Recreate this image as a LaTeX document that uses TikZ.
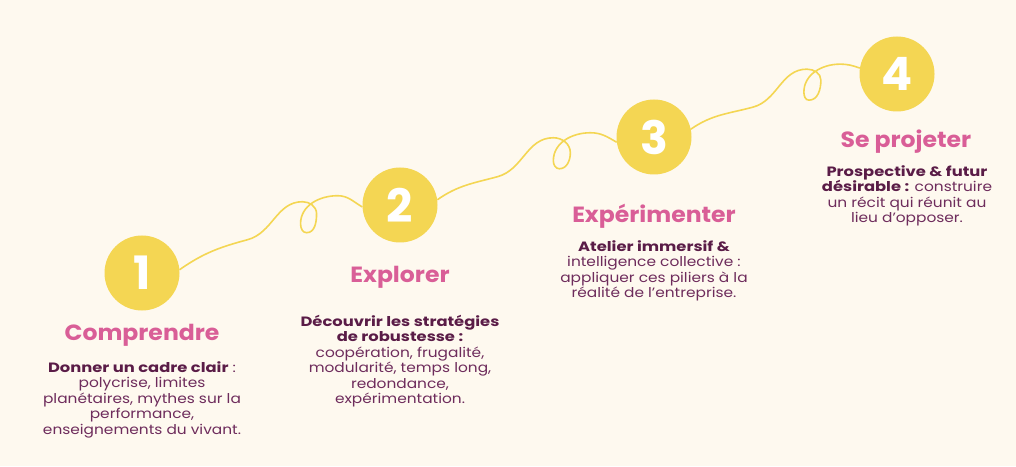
\documentclass[tikz,border=0pt]{standalone}
\usepackage{fontspec}
\setmainfont{Poppins}[FakeStretch=1.14,BoldFeatures={FakeStretch=1.21}]
\newfontfamily\titlefont{Poppins}[FakeStretch=1.07]
\newfontfamily\numfont{Poppins}
\usepackage{xcolor}
\usepackage{tikz}
\definecolor{cream}{HTML}{FEF9EF}
\definecolor{sun}{HTML}{F4D653}
\definecolor{rose}{HTML}{D95E97}
\definecolor{plum}{HTML}{5A1C47}
\definecolor{mauve}{HTML}{6E2C5C}

\begin{document}
\begin{tikzpicture}[x=1pt,y=1pt,
	step circle/.style={circle,fill=sun,minimum size=75pt,inner sep=0pt,
		text=white,font=\numfont\fontsize{46}{46}\selectfont\bfseries},
	title/.style={anchor=base,text=rose,font=\titlefont\fontsize{22}{22}\selectfont\bfseries},
	body/.style={anchor=north,align=center,inner sep=0pt,text=mauve,
		font=\fontsize{13.5}{15.5}\selectfont},
	curl/.style={draw=sun,line width=1.6pt}
	]
	\fill[cream] (0,0) rectangle (1016,466);
	\useasboundingbox (0,0) rectangle (1016,466);
	%
	\node[step circle] (c1) at (142,193) {1};
	\node[step circle] (c2) at (400,261) {2};
	\node[step circle] (c3) at (654,329) {3};
	\node[step circle] (c4) at (897,392) {4};
	%
	\node[title] (t1) at (142,126) {Comprendre};
	\node[title] (t2) at (400,183) {Explorer};
	\node[title] (t3) at (654,243) {Expérimenter};
	\node[title] (t4) at (906,318) {Se projeter};
	%
	\node[body] (b1) at (142,105) {\textcolor{plum}{\textbf{Donner un cadre clair}} :\\
		polycrise, limites\\ planétaires, mythes sur la\\ performance,\\
		enseignements du vivant.};
	\node[body] (b2) at (400,151) {\textcolor{plum}{\textbf{Découvrir les stratégies}}\\
		\textcolor{plum}{\textbf{de robustesse :}}\\ coopération, frugalité,\\
		modularité, temps long,\\ redondance,\\ expérimentation.};
	\node[body] (b3) at (654,226) {\textcolor{plum}{\textbf{Atelier immersif \&}}\\
		intelligence collective :\\ appliquer ces piliers à la\\
		réalité de l’entreprise.};
	\node[body] (b4) at (907,301) {\textcolor{plum}{\textbf{Prospective \& futur}}\\
		\textcolor{plum}{\textbf{désirable :}} construire\\ un récit qui réunit au\\
		lieu d'opposer.};
	%
	\draw[curl] (c1.5) to[out=35,in=195] ++(68,30) to[out=15,in=180] ++(55,38)
		to[out=0,in=90] ++(14,-12) to[out=-90,in=0] ++(-10,-19)
		to[out=180,in=-90] ++(-6,9) to[out=90,in=180] ++(37,28)
		to[out=0,in=150] (c2.183);
	\draw[curl] (c2.8) to[out=35,in=195] ++(60,23) to[out=15,in=180] ++(56,39)
		to[out=0,in=90] ++(17,-15) to[out=-90,in=0] ++(-11,-16)
		to[out=180,in=-90] ++(-6,8) to[out=90,in=180] ++(37,28)
		to[out=0,in=150] (c3.188);
	\draw[curl] (c3.12) to[out=35,in=195] ++(62,22) to[out=15,in=180] ++(54,38)
		to[out=0,in=90] ++(14,-11) to[out=-90,in=0] ++(-12,-20)
		to[out=180,in=-90] ++(-5,8) to[out=90,in=180] ++(36,28)
		to[out=0,in=160] (c4.171);
\end{tikzpicture}
\end{document}
